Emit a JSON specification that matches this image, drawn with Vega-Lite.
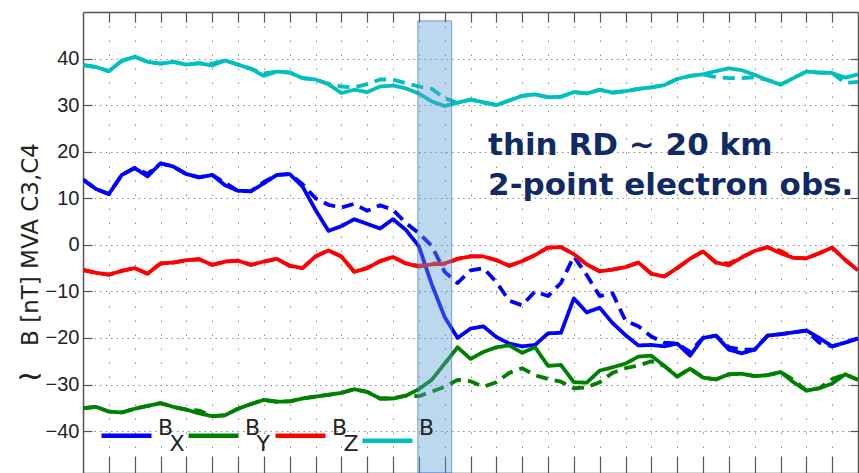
{
  "$schema": "https://vega.github.io/schema/vega-lite/v6.json",
  "width": 775,
  "height": 461,
  "autosize": "none",
  "padding": {"left": 83, "top": 12, "right": 1, "bottom": 0},
  "background": "white",
  "config": {
    "view": {"stroke": null},
    "axis": {
      "domainColor": "#555555",
      "domainWidth": 1.5,
      "tickColor": "#555555",
      "tickWidth": 1.2,
      "gridColor": "#8a8a8a",
      "gridWidth": 1,
      "labelFont": "Liberation Sans Narrow, Liberation Sans, Arial",
      "labelFontSize": 20,
      "labelColor": "#222222",
      "titleFont": "DejaVu Sans",
      "titleFontSize": 23,
      "titleFontWeight": "normal",
      "titleColor": "#222222"
    }
  },
  "datasets": {
    "field": [
      {"t": 0.0, "BX3": 14.0, "BX4": 14.0, "BY3": -35.1, "BY4": -35.1, "BZ3": -5.4, "BZ4": -5.4, "B3": 38.6, "B4": 38.6},
      {"t": 0.5, "BX3": 12.0, "BX4": 12.0, "BY3": -34.8, "BY4": -34.8, "BZ3": -6.0, "BZ4": -6.0, "B3": 38.2, "B4": 38.2},
      {"t": 1.0, "BX3": 10.9, "BX4": 10.9, "BY3": -35.8, "BY4": -35.8, "BZ3": -6.4, "BZ4": -6.4, "B3": 37.3, "B4": 37.3},
      {"t": 1.5, "BX3": 15.0, "BX4": 15.0, "BY3": -36.0, "BY4": -36.0, "BZ3": -5.6, "BZ4": -5.6, "B3": 39.5, "B4": 39.5},
      {"t": 2.0, "BX3": 16.5, "BX4": 16.5, "BY3": -35.2, "BY4": -35.2, "BZ3": -5.0, "BZ4": -5.0, "B3": 40.4, "B4": 40.4},
      {"t": 2.5, "BX3": 14.7, "BX4": 15.2, "BY3": -34.6, "BY4": -34.6, "BZ3": -6.2, "BZ4": -6.2, "B3": 39.3, "B4": 39.3},
      {"t": 3.0, "BX3": 17.5, "BX4": 17.5, "BY3": -34.0, "BY4": -34.0, "BZ3": -4.0, "BZ4": -4.0, "B3": 38.9, "B4": 38.9},
      {"t": 3.5, "BX3": 16.8, "BX4": 16.8, "BY3": -34.8, "BY4": -34.8, "BZ3": -3.8, "BZ4": -3.8, "B3": 39.3, "B4": 39.3},
      {"t": 4.0, "BX3": 15.2, "BX4": 15.2, "BY3": -35.4, "BY4": -35.4, "BZ3": -3.3, "BZ4": -3.3, "B3": 38.7, "B4": 38.7},
      {"t": 4.5, "BX3": 14.5, "BX4": 14.5, "BY3": -36.2, "BY4": -35.6, "BZ3": -3.1, "BZ4": -3.1, "B3": 39.0, "B4": 39.0},
      {"t": 5.0, "BX3": 15.0, "BX4": 15.0, "BY3": -36.8, "BY4": -36.8, "BZ3": -4.3, "BZ4": -4.3, "B3": 38.5, "B4": 38.9},
      {"t": 5.5, "BX3": 12.8, "BX4": 13.3, "BY3": -36.6, "BY4": -36.6, "BZ3": -3.6, "BZ4": -3.6, "B3": 39.6, "B4": 39.6},
      {"t": 6.0, "BX3": 11.6, "BX4": 11.6, "BY3": -35.2, "BY4": -35.2, "BZ3": -3.4, "BZ4": -3.4, "B3": 38.7, "B4": 38.7},
      {"t": 6.5, "BX3": 11.5, "BX4": 11.5, "BY3": -34.2, "BY4": -34.2, "BZ3": -4.3, "BZ4": -4.3, "B3": 37.8, "B4": 37.8},
      {"t": 7.0, "BX3": 13.2, "BX4": 13.5, "BY3": -33.3, "BY4": -33.3, "BZ3": -3.6, "BZ4": -3.6, "B3": 36.3, "B4": 36.8},
      {"t": 7.5, "BX3": 15.0, "BX4": 15.0, "BY3": -33.7, "BY4": -33.7, "BZ3": -3.0, "BZ4": -3.0, "B3": 37.2, "B4": 37.2},
      {"t": 8.0, "BX3": 15.2, "BX4": 15.2, "BY3": -33.6, "BY4": -33.6, "BZ3": -4.5, "BZ4": -4.5, "B3": 37.0, "B4": 37.0},
      {"t": 8.5, "BX3": 12.5, "BX4": 13.0, "BY3": -33.0, "BY4": -33.0, "BZ3": -5.0, "BZ4": -5.0, "B3": 35.8, "B4": 35.8},
      {"t": 9.0, "BX3": 7.5, "BX4": 10.0, "BY3": -32.6, "BY4": -32.6, "BZ3": -2.5, "BZ4": -2.5, "B3": 35.5, "B4": 35.5},
      {"t": 9.5, "BX3": 3.0, "BX4": 8.6, "BY3": -32.2, "BY4": -32.2, "BZ3": -1.2, "BZ4": -1.2, "B3": 34.5, "B4": 34.6},
      {"t": 10.0, "BX3": 4.0, "BX4": 8.0, "BY3": -31.8, "BY4": -31.8, "BZ3": -2.5, "BZ4": -2.5, "B3": 32.6, "B4": 34.0},
      {"t": 10.5, "BX3": 5.5, "BX4": 8.8, "BY3": -31.0, "BY4": -31.0, "BZ3": -5.8, "BZ4": -5.8, "B3": 33.3, "B4": 33.8},
      {"t": 11.0, "BX3": 4.5, "BX4": 7.3, "BY3": -31.6, "BY4": -31.6, "BZ3": -5.0, "BZ4": -5.0, "B3": 32.8, "B4": 34.5},
      {"t": 11.5, "BX3": 3.5, "BX4": 8.5, "BY3": -33.0, "BY4": -33.0, "BZ3": -3.5, "BZ4": -3.5, "B3": 34.0, "B4": 35.5},
      {"t": 12.0, "BX3": 5.5, "BX4": 7.5, "BY3": -33.0, "BY4": -33.0, "BZ3": -2.6, "BZ4": -2.6, "B3": 34.2, "B4": 35.5},
      {"t": 12.5, "BX3": 3.2, "BX4": 4.7, "BY3": -32.4, "BY4": -32.4, "BZ3": -4.0, "BZ4": -4.0, "B3": 33.6, "B4": 34.7},
      {"t": 13.0, "BX3": -0.3, "BX4": 2.5, "BY3": -31.0, "BY4": -32.5, "BZ3": -4.7, "BZ4": -4.5, "B3": 32.5, "B4": 34.0},
      {"t": 13.5, "BX3": -8.5, "BX4": -0.2, "BY3": -29.0, "BY4": -31.5, "BZ3": -4.2, "BZ4": -4.0, "B3": 30.8, "B4": 33.5},
      {"t": 14.0, "BX3": -15.5, "BX4": -5.8, "BY3": -25.5, "BY4": -30.5, "BZ3": -4.0, "BZ4": -4.2, "B3": 29.8, "B4": 31.5},
      {"t": 14.5, "BX3": -20.0, "BX4": -8.2, "BY3": -22.0, "BY4": -29.0, "BZ3": -3.0, "BZ4": -3.0, "B3": 30.5, "B4": 30.5},
      {"t": 15.0, "BX3": -18.0, "BX4": -5.5, "BY3": -24.5, "BY4": -29.3, "BZ3": -2.5, "BZ4": -2.5, "B3": 31.2, "B4": 31.2},
      {"t": 15.5, "BX3": -17.5, "BX4": -5.0, "BY3": -23.0, "BY4": -30.5, "BZ3": -2.5, "BZ4": -2.5, "B3": 30.6, "B4": 30.6},
      {"t": 16.0, "BX3": -19.8, "BX4": -8.0, "BY3": -22.0, "BY4": -29.5, "BZ3": -3.3, "BZ4": -3.3, "B3": 30.0, "B4": 30.0},
      {"t": 16.5, "BX3": -21.2, "BX4": -12.0, "BY3": -21.6, "BY4": -27.5, "BZ3": -4.5, "BZ4": -4.5, "B3": 31.0, "B4": 31.0},
      {"t": 17.0, "BX3": -21.8, "BX4": -13.0, "BY3": -23.2, "BY4": -26.5, "BZ3": -3.5, "BZ4": -3.5, "B3": 32.0, "B4": 32.0},
      {"t": 17.5, "BX3": -21.5, "BX4": -10.0, "BY3": -22.0, "BY4": -28.0, "BZ3": -2.2, "BZ4": -2.2, "B3": 32.3, "B4": 32.3},
      {"t": 18.0, "BX3": -19.0, "BX4": -11.0, "BY3": -26.0, "BY4": -28.8, "BZ3": -0.6, "BZ4": -0.6, "B3": 31.7, "B4": 31.7},
      {"t": 18.5, "BX3": -18.9, "BX4": -8.2, "BY3": -25.8, "BY4": -29.4, "BZ3": -0.5, "BZ4": -0.5, "B3": 31.8, "B4": 31.8},
      {"t": 19.0, "BX3": -11.5, "BX4": -2.5, "BY3": -29.5, "BY4": -30.8, "BZ3": -2.0, "BZ4": -2.0, "B3": 32.8, "B4": 32.8},
      {"t": 19.5, "BX3": -14.5, "BX4": -6.5, "BY3": -29.6, "BY4": -30.6, "BZ3": -4.2, "BZ4": -4.2, "B3": 32.5, "B4": 32.5},
      {"t": 20.0, "BX3": -13.5, "BX4": -11.0, "BY3": -27.0, "BY4": -29.5, "BZ3": -5.7, "BZ4": -5.7, "B3": 33.3, "B4": 33.3},
      {"t": 20.5, "BX3": -16.8, "BX4": -10.4, "BY3": -26.3, "BY4": -27.5, "BZ3": -5.3, "BZ4": -5.3, "B3": 32.7, "B4": 32.7},
      {"t": 21.0, "BX3": -19.4, "BX4": -16.3, "BY3": -25.5, "BY4": -26.5, "BZ3": -4.8, "BZ4": -4.8, "B3": 33.0, "B4": 33.0},
      {"t": 21.5, "BX3": -21.6, "BX4": -17.5, "BY3": -24.0, "BY4": -25.9, "BZ3": -3.8, "BZ4": -3.8, "B3": 33.5, "B4": 33.5},
      {"t": 22.0, "BX3": -21.5, "BX4": -19.7, "BY3": -23.8, "BY4": -25.0, "BZ3": -6.2, "BZ4": -6.2, "B3": 33.8, "B4": 33.8},
      {"t": 22.5, "BX3": -21.8, "BX4": -21.0, "BY3": -26.0, "BY4": -26.0, "BZ3": -6.8, "BZ4": -6.8, "B3": 34.3, "B4": 34.3},
      {"t": 23.0, "BX3": -21.2, "BX4": -21.2, "BY3": -28.3, "BY4": -28.3, "BZ3": -5.0, "BZ4": -5.0, "B3": 35.6, "B4": 35.6},
      {"t": 23.5, "BX3": -23.8, "BX4": -23.0, "BY3": -26.6, "BY4": -26.6, "BZ3": -3.0, "BZ4": -3.0, "B3": 36.3, "B4": 36.3},
      {"t": 24.0, "BX3": -20.0, "BX4": -20.0, "BY3": -28.5, "BY4": -28.5, "BZ3": -1.4, "BZ4": -1.4, "B3": 36.6, "B4": 36.6},
      {"t": 24.5, "BX3": -19.5, "BX4": -19.5, "BY3": -28.9, "BY4": -28.9, "BZ3": -3.8, "BZ4": -3.8, "B3": 37.3, "B4": 36.0},
      {"t": 25.0, "BX3": -22.5, "BX4": -22.0, "BY3": -27.8, "BY4": -27.8, "BZ3": -4.4, "BZ4": -4.0, "B3": 37.9, "B4": 35.8},
      {"t": 25.5, "BX3": -23.3, "BX4": -22.5, "BY3": -27.7, "BY4": -27.7, "BZ3": -2.7, "BZ4": -2.7, "B3": 37.5, "B4": 35.8},
      {"t": 26.0, "BX3": -22.5, "BX4": -22.5, "BY3": -28.2, "BY4": -28.2, "BZ3": -1.3, "BZ4": -1.3, "B3": 36.5, "B4": 36.0},
      {"t": 26.5, "BX3": -19.5, "BX4": -19.5, "BY3": -28.0, "BY4": -28.0, "BZ3": -0.5, "BZ4": -0.5, "B3": 35.4, "B4": 35.4},
      {"t": 27.0, "BX3": -19.2, "BX4": -19.2, "BY3": -27.3, "BY4": -27.3, "BZ3": -1.8, "BZ4": -1.3, "B3": 34.4, "B4": 34.4},
      {"t": 27.5, "BX3": -18.8, "BX4": -18.8, "BY3": -29.5, "BY4": -29.0, "BZ3": -2.8, "BZ4": -2.8, "B3": 35.8, "B4": 35.8},
      {"t": 28.0, "BX3": -18.4, "BX4": -18.4, "BY3": -31.3, "BY4": -31.3, "BZ3": -2.9, "BZ4": -2.9, "B3": 37.2, "B4": 37.2},
      {"t": 28.5, "BX3": -20.0, "BX4": -21.0, "BY3": -30.8, "BY4": -30.8, "BZ3": -1.8, "BZ4": -1.8, "B3": 37.0, "B4": 37.0},
      {"t": 29.0, "BX3": -21.8, "BX4": -21.8, "BY3": -29.8, "BY4": -28.8, "BZ3": -0.6, "BZ4": -0.6, "B3": 36.9, "B4": 36.9},
      {"t": 29.5, "BX3": -21.0, "BX4": -21.0, "BY3": -27.8, "BY4": -27.8, "BZ3": -3.2, "BZ4": -3.2, "B3": 35.9, "B4": 34.8},
      {"t": 30.0, "BX3": -20.1, "BX4": -20.1, "BY3": -29.0, "BY4": -29.0, "BZ3": -5.5, "BZ4": -5.5, "B3": 36.6, "B4": 35.0}
    ],
    "interval": [
      {"start": 12.96, "end": 14.27, "top": 48.1, "bottom": -49}
    ],
    "notes": [
      {"note": "annotation"}
    ]
  },
  "layer": [
    {
      "data": {"name": "field"},
      "transform": [
        {"fold": ["BX4", "BY4", "BZ4", "B4", "BX3", "BY3", "BZ3", "B3"], "as": ["key", "nT"]}
      ],
      "mark": {"type": "line", "strokeWidth": 3.8, "clip": true, "strokeJoin": "round"},
      "encoding": {
        "x": {
          "field": "t",
          "type": "quantitative",
          "scale": {"domain": [0, 30], "nice": false, "zero": false},
          "axis": {
            "orient": "bottom",
            "values": [1,2,3,4,5,6,7,8,9,10,11,12,13,14,15,16,17,18,19,20,21,22,23,24,25,26,27,28,29],
            "labels": false,
            "tickSize": -17,
            "grid": true,
            "gridDash": [1.5, 12.5],
            "title": null
          }
        },
        "y": {
          "field": "nT",
          "type": "quantitative",
          "scale": {"domain": [-49, 50], "nice": false, "zero": false},
          "axis": {
            "orient": "left",
            "values": [-40, -30, -20, -10, 0, 10, 20, 30, 40],
            "tickSize": -9,
            "labelPadding": 13,
            "labelOverlap": false,
            "labelFlush": false,
            "grid": true,
            "gridDash": [1.5, 4],
            "title": "B [nT] MVA C3,C4",
            "titleX": -46,
            "titleY": 232,
            "titleAngle": -90,
            "titleAlign": "center",
            "titleBaseline": "alphabetic"
          }
        },
        "color": {
          "field": "key",
          "type": "nominal",
          "scale": {
            "domain": ["BX3", "BY3", "BZ3", "B3", "BX4", "BY4", "BZ4", "B4"],
            "range": ["#0000ff", "#008000", "#ff0000", "#00bfbf", "#0000ff", "#008000", "#ff0000", "#00bfbf"]
          },
          "legend": {
            "values": ["BX3", "BY3", "BZ3", "B3"],
            "orient": "none",
            "legendX": 16,
            "legendY": 396,
            "direction": "horizontal",
            "columns": 4,
            "title": null,
            "padding": 0,
            "symbolType": "stroke",
            "symbolSize": 2500,
            "symbolStrokeWidth": 4.5,
            "labelFont": "DejaVu Sans",
            "labelFontSize": 22,
            "labelColor": "#222222",
            "labelOffset": 4,
            "labelLimit": 0,
            "labelBaseline": "middle",
            "columnPadding": -6,
            "gridAlign": "all",
            "labelExpr": "datum.value == 'BX3' ? ['B', '\u200d\u00a0\u2009X'] : datum.value == 'BY3' ? ['B', '\u200d\u00a0\u2009Y'] : datum.value == 'BZ3' ? ['B', '\u200d\u00a0\u2009Z'] : 'B'",
            "encode": {"labels": {"update": {"lineHeight": {"value": 16}, "dy": {"signal": "datum.value == 'B3' ? -13 : -8"}}}}
          }
        },
        "strokeDash": {
          "field": "key",
          "type": "nominal",
          "scale": {
            "domain": ["BX3", "BY3", "BZ3", "B3", "BX4", "BY4", "BZ4", "B4"],
            "range": [[1, 0], [1, 0], [1, 0], [1, 0], [12, 7], [12, 7], [12, 7], [12, 7]]
          },
          "legend": null
        }
      }
    },
    {
      "data": {"name": "interval"},
      "mark": {"type": "rect", "fill": "#5b9bd5", "fillOpacity": 0.4, "stroke": "#2f6fc0", "strokeWidth": 1, "strokeOpacity": 0.6},
      "encoding": {
        "x": {
          "field": "start",
          "type": "quantitative",
          "scale": {"domain": [0, 30], "nice": false, "zero": false},
          "axis": {
            "orient": "top",
            "values": [1,2,3,4,5,6,7,8,9,10,11,12,13,14,15,16,17,18,19,20,21,22,23,24,25,26,27,28,29],
            "labels": false,
            "tickSize": -10,
            "grid": false,
            "title": null
          }
        },
        "x2": {"field": "end"},
        "y": {
          "field": "top",
          "type": "quantitative",
          "scale": {"domain": [-49, 50], "nice": false, "zero": false},
          "axis": {
            "orient": "right",
            "values": [-40, -30, -20, -10, 0, 10, 20, 30, 40],
            "labels": false,
            "tickSize": -8,
            "grid": false,
            "title": null
          }
        },
        "y2": {"field": "bottom"}
      }
    },
    {
      "data": {"name": "notes"},
      "mark": {
        "type": "text",
        "text": ["thin RD ~ 20 km", "2-point electron obs."],
        "font": "DejaVu Sans",
        "fontSize": 31,
        "fontWeight": "bold",
        "color": "#102a66",
        "align": "left",
        "baseline": "alphabetic",
        "lineHeight": 40
      },
      "encoding": {
        "x": {"datum": 15.68, "type": "quantitative", "axis": null},
        "y": {"datum": 19.35, "type": "quantitative", "axis": null}
      }
    },
    {
      "data": {"name": "notes"},
      "mark": {
        "type": "text",
        "text": "~",
        "font": "DejaVu Sans",
        "fontSize": 34,
        "color": "#222222",
        "align": "center",
        "baseline": "middle"
      },
      "encoding": {
        "x": {"datum": -2.05, "type": "quantitative", "axis": null},
        "y": {"datum": -28.4, "type": "quantitative", "axis": null}
      }
    }
  ],
  "resolve": {"axis": {"x": "independent", "y": "independent"}}
}
